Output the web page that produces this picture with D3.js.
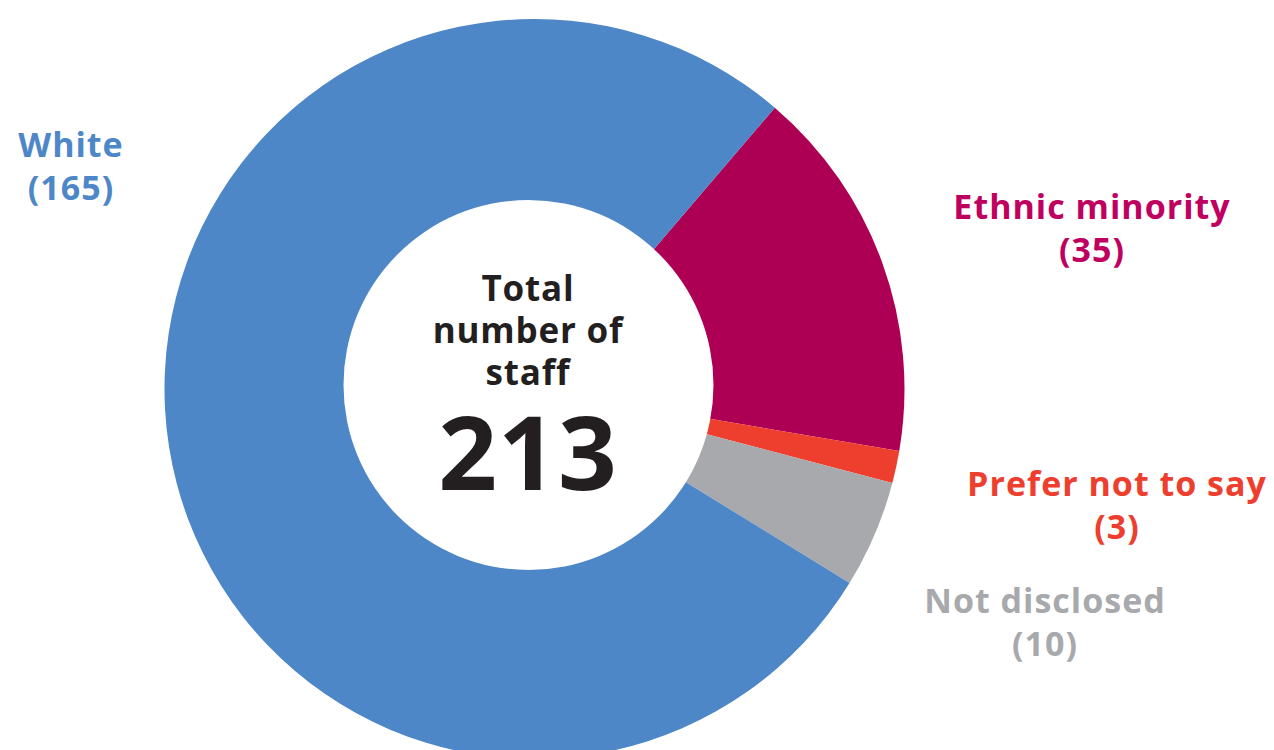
<!DOCTYPE html>
<html>
<head>
<meta charset="utf-8">
<script src="https://cdn.jsdelivr.net/npm/d3@7"></script>
<style>
  html, body { margin: 0; padding: 0; background: #ffffff; }
  svg { display: block; }
  text { font-family: "Open Sans", "Noto Sans", sans-serif; font-weight: 700; }
</style>
</head>
<body>
<svg id="chart" width="1274" height="750"></svg>
<script>
const categories = ["Ethnic minority", "Prefer not to say", "Not disclosed", "White"];
const values = [35, 3, 10, 165];
const colors = ["#AD0054", "#EE3E2D", "#A7A9AC", "#4D87C7"];
const labelColors = ["#C0005F", "#EE3E2D", "#A7A9AC", "#4D87C7"];
const centerLines = ["Total", "number of", "staff"];
const total = d3.sum(values);

const svg = d3.select("#chart");
const cx = 534.5, cy = 389, R = 370;
const startDeg = 40.5;

const pie = d3.pie().sort(null)
  .startAngle(startDeg * Math.PI / 180)
  .endAngle((startDeg + 360) * Math.PI / 180);
const arc = d3.arc().innerRadius(0).outerRadius(R);

const data = categories.map((c, i) => ({ cat: c, value: values[i], color: colors[i], lc: labelColors[i] }));

const g = svg.append("g").attr("transform", `translate(${cx},${cy})`);
g.selectAll("path").data(pie.value(d => d.value)(data)).join("path")
  .attr("d", arc)
  .attr("fill", d => d.data.color);

// inner hole
svg.append("circle").attr("cx", 528.5).attr("cy", 385).attr("r", 185).attr("fill", "#ffffff");

// center text
const ct = svg.append("g").attr("text-anchor", "middle").attr("fill", "#231F20");
centerLines.forEach((t, i) => {
  ct.append("text").attr("x", 528).attr("y", 301 + i * 42)
    .attr("font-size", 35).attr("letter-spacing", 0.8).text(t);
});
ct.append("text").attr("x", 528).attr("y", 490).attr("font-size", 103).attr("letter-spacing", 1).text(total);

// labels
const labelPos = {
  "White": [71, 157, 200],
  "Ethnic minority": [1092, 219, 262],
  "Prefer not to say": [1117, 496, 539],
  "Not disclosed": [1045, 613, 656]
};
data.forEach(d => {
  const p = labelPos[d.cat];
  const lg = svg.append("g").attr("text-anchor", "middle").attr("fill", d.lc);
  lg.append("text").attr("x", p[0]).attr("y", p[1]).attr("font-size", 34).attr("letter-spacing", 1).text(d.cat);
  lg.append("text").attr("x", p[0]).attr("y", p[2]).attr("font-size", 34).attr("letter-spacing", 1).text(`(${d.value})`);
});
</script>
</body>
</html>
